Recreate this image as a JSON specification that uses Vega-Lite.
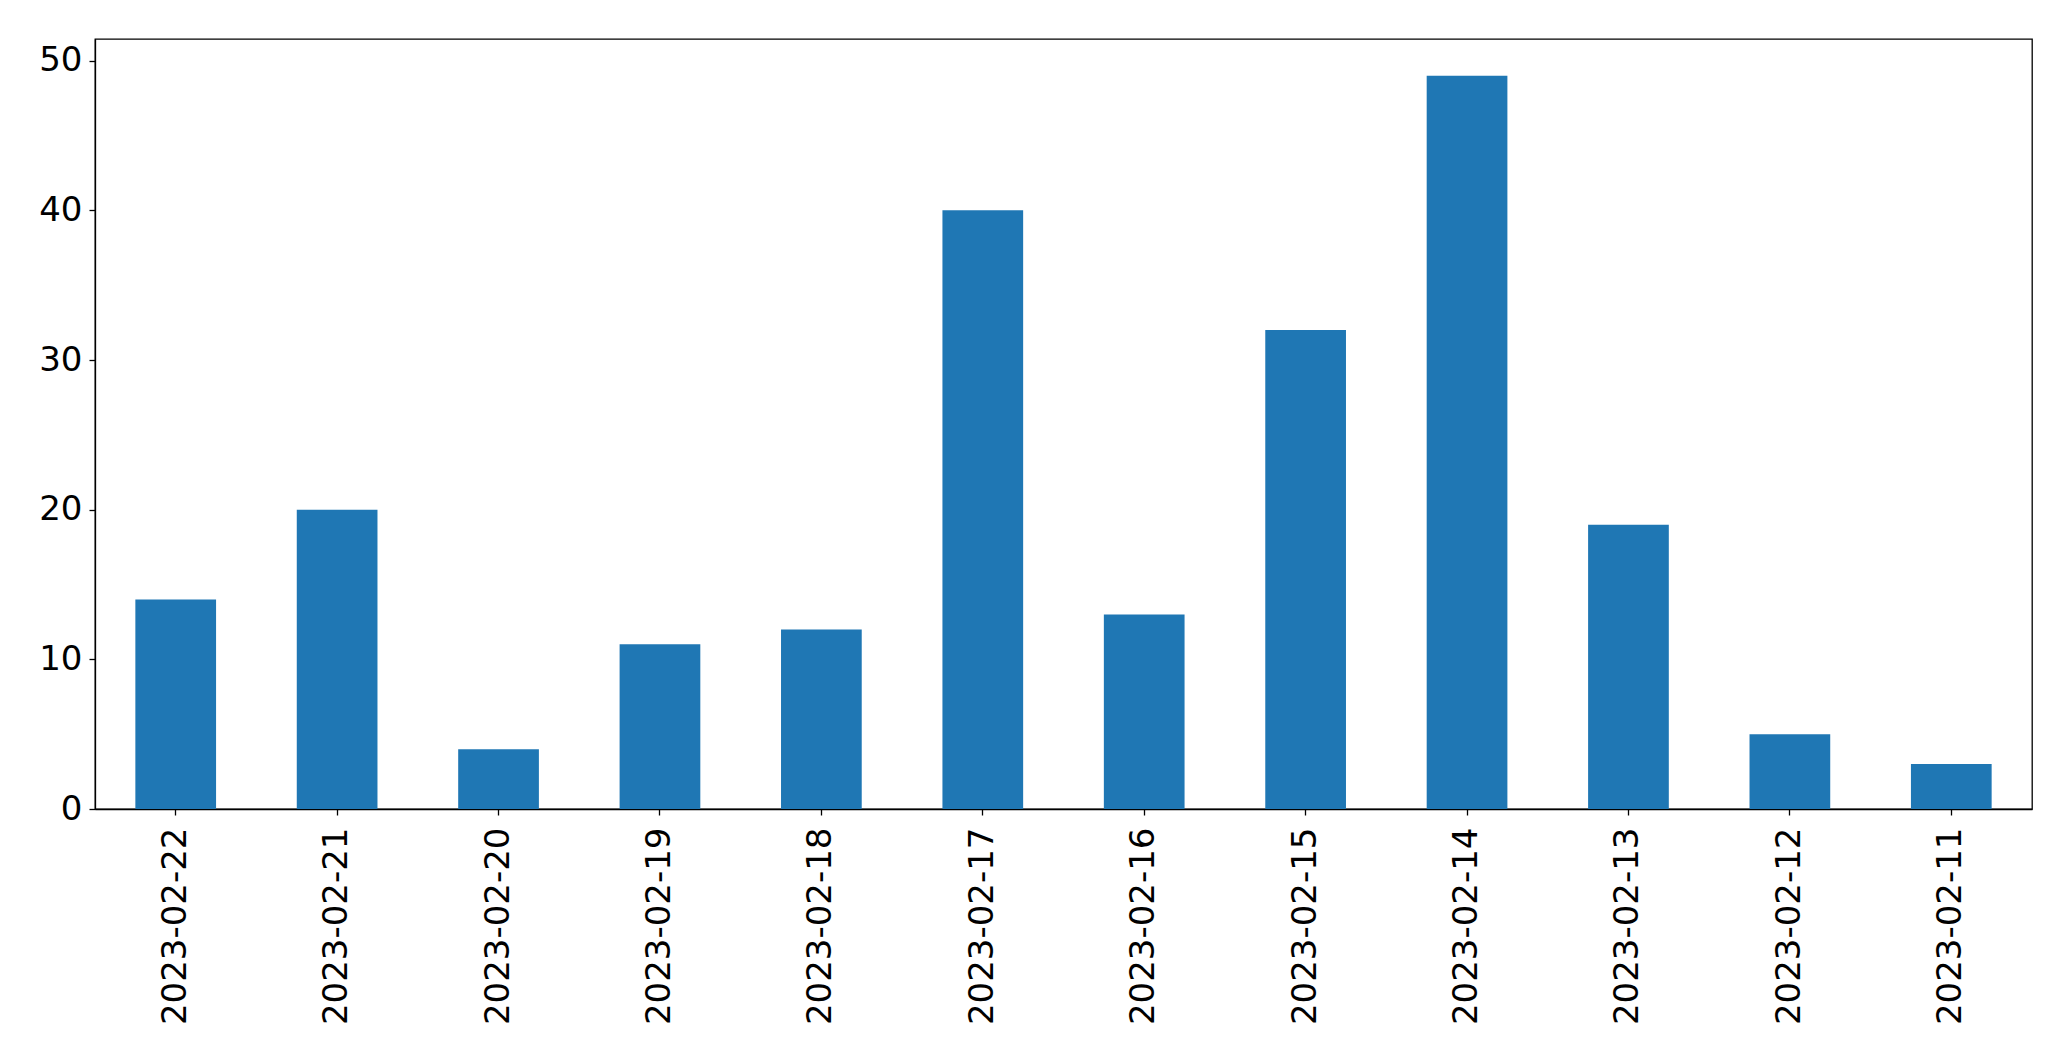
{
  "$schema": "https://vega.github.io/schema/vega-lite/v6.json",
  "width": 1937,
  "height": 770,
  "autosize": {"type": "none"},
  "padding": {"left": 95, "top": 39, "right": 39, "bottom": 252},
  "background": "white",
  "config": {
    "view": {"stroke": "#000000", "strokeWidth": 1.3},
    "axis": {
      "labelFont": "DejaVu Sans",
      "labelFontSize": 34,
      "labelColor": "#000000",
      "labelLimit": 0,
      "domainColor": "#000000",
      "domainWidth": 1.3,
      "tickColor": "#000000",
      "tickWidth": 1.3,
      "tickSize": 6,
      "grid": false,
      "title": null
    }
  },
  "data": {
    "values": [
      {"date": "2023-02-22", "count": 14},
      {"date": "2023-02-21", "count": 20},
      {"date": "2023-02-20", "count": 4},
      {"date": "2023-02-19", "count": 11},
      {"date": "2023-02-18", "count": 12},
      {"date": "2023-02-17", "count": 40},
      {"date": "2023-02-16", "count": 13},
      {"date": "2023-02-15", "count": 32},
      {"date": "2023-02-14", "count": 49},
      {"date": "2023-02-13", "count": 19},
      {"date": "2023-02-12", "count": 5},
      {"date": "2023-02-11", "count": 3}
    ]
  },
  "mark": {"type": "bar", "color": "#1f77b4"},
  "encoding": {
    "x": {
      "field": "date",
      "type": "nominal",
      "sort": null,
      "scale": {"paddingInner": 0.5, "paddingOuter": 0.25},
      "axis": {"labelAngle": -90, "labelPadding": 12, "labelLimit": 0, "title": null}
    },
    "y": {
      "field": "count",
      "type": "quantitative",
      "scale": {"domain": [0, 51.45], "nice": false},
      "axis": {"values": [0, 10, 20, 30, 40, 50], "labelPadding": 7, "title": null}
    }
  }
}
